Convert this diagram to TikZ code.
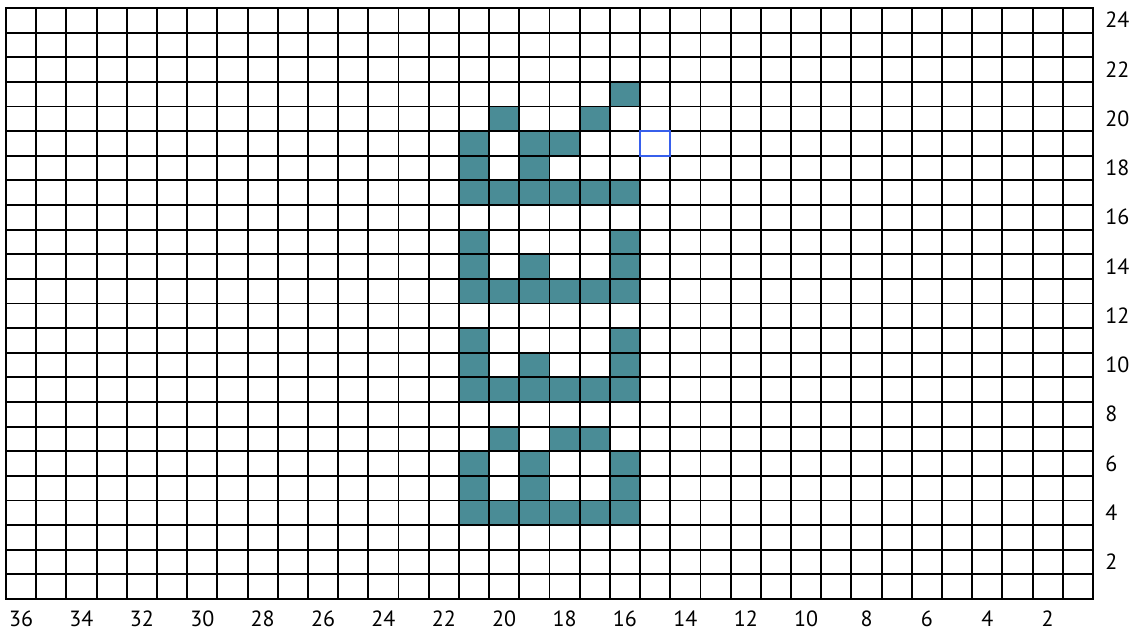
\documentclass[tikz,border=0pt]{standalone}
\usepackage{fontspec}
\setmainfont{PT Sans}
\definecolor{cellteal}{RGB}{74,140,150}
\definecolor{selblue}{RGB}{55,95,235}
\tikzset{
  gridline/.style={line width=1.9pt, black, line cap=rect},
  filled/.style={fill=cellteal},
  lab/.style={font=\fontsize{22pt}{24pt}\selectfont, inner sep=0pt},
  selcell/.style={draw=selblue, line width=2pt, line cap=rect}
}
\begin{document}
\begin{tikzpicture}[x=30.194pt,y=24.625pt]
\useasboundingbox (-6pt,-38pt) rectangle (1130pt,599pt);
\fill[white] (-6pt,-38pt) rectangle (1130pt,599pt);
% filled cells (column number, row number)
\foreach \c/\r in {16/21, 20/20, 17/20, 21/19, 19/19, 18/19, 21/18, 19/18,
  21/17, 20/17, 19/17, 18/17, 17/17, 16/17,
  21/15, 16/15, 21/14, 19/14, 16/14,
  21/13, 20/13, 19/13, 18/13, 17/13, 16/13,
  21/11, 16/11, 21/10, 19/10, 16/10,
  21/9, 20/9, 19/9, 18/9, 17/9, 16/9,
  20/7, 18/7, 17/7, 21/6, 19/6, 16/6, 21/5, 19/5, 16/5,
  21/4, 20/4, 19/4, 18/4, 17/4, 16/4}
  \fill[filled] (36-\c,\r-1) rectangle (37-\c,\r);
% grid
\foreach \i in {0,...,36} \draw[gridline] (\i,0) -- (\i,24);
\foreach \j in {0,...,24} \draw[gridline] (0,\j) -- (36,\j);
% selected cell
\coordinate (selA) at (21,18);
\coordinate (selB) at (22,19);
\draw[selcell] (selA) rectangle (selB);
% column labels
\foreach \n in {2,4,...,36}
  \node[lab, anchor=base] (col\n) at (36.5-\n,-1.137) {\n};
% row labels
\foreach \n in {2,4,...,24}
  \node[lab, anchor=base west] (row\n) at (36.40,\n-0.81) {\n};
\end{tikzpicture}
\end{document}
